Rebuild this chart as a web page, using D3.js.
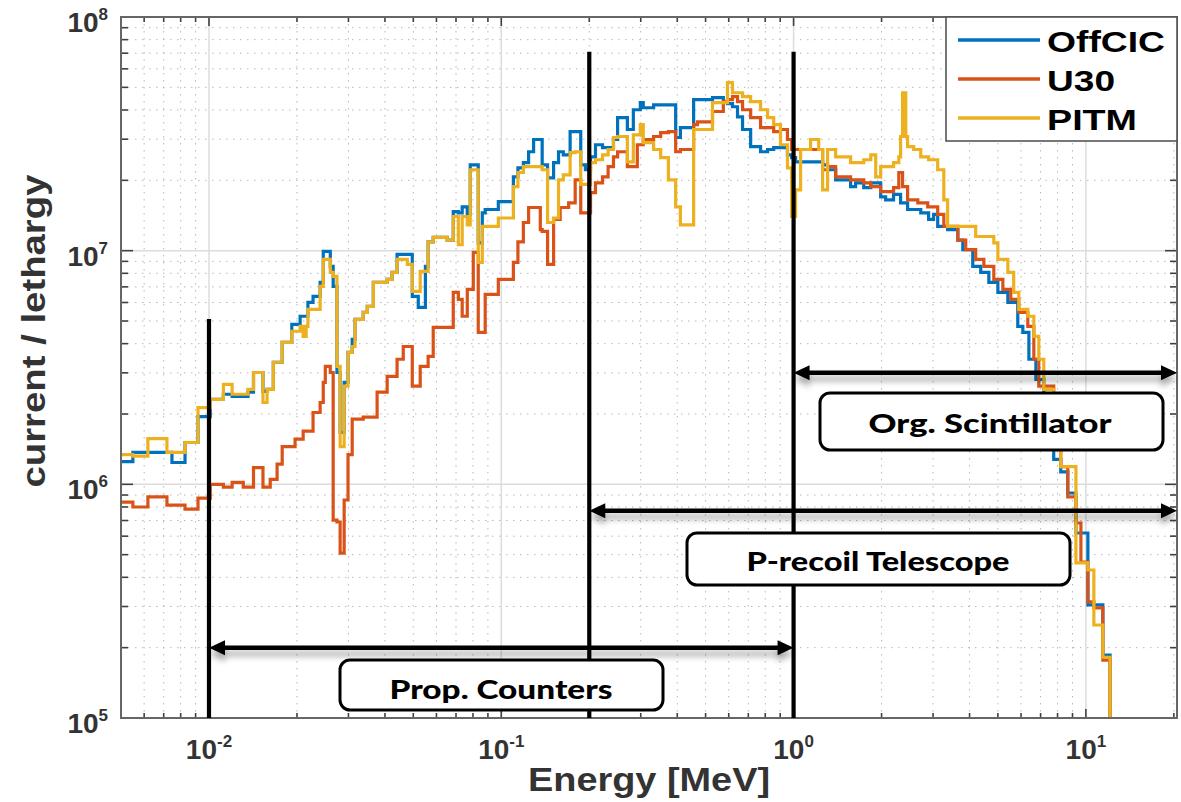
<!DOCTYPE html>
<html>
<head>
<meta charset="utf-8">
<script src="https://cdn.jsdelivr.net/npm/d3@7/dist/d3.min.js"></script>
<style>
html,body{margin:0;padding:0;background:#fff;}
svg{display:block;}
</style>
</head>
<body>
<svg id="chart" width="1181" height="802"></svg>
<script>
// ---------------- DATA ----------------
// Lower bin edges (MeV); each value holds until the next edge (step plot)
const energy = [
  0.0050, 0.00549, 0.00618, 0.00718, 0.00747, 0.00828, 0.00917, 0.0101, 0.0112, 0.0120,
  0.0131, 0.0136, 0.0142, 0.0153, 0.0158, 0.0162, 0.0166, 0.0171, 0.0178, 0.0192,
  0.0197, 0.0205, 0.0210, 0.0215, 0.0218, 0.0227, 0.0240, 0.0246, 0.0250, 0.0260,
  0.0266, 0.0274, 0.0281, 0.0290, 0.0299, 0.0309, 0.0316, 0.0337, 0.0348, 0.0365,
  0.0376, 0.0407, 0.0423, 0.0440, 0.0462, 0.0477, 0.0496, 0.0520, 0.0528, 0.0550,
  0.0562, 0.0585, 0.0653, 0.0685, 0.0713, 0.0735, 0.0765, 0.0783, 0.0802, 0.0834,
  0.0861, 0.0881, 0.0977, 0.110, 0.114, 0.119, 0.124, 0.129, 0.136, 0.138,
  0.144, 0.151, 0.157, 0.159, 0.163, 0.170, 0.172, 0.179, 0.187, 0.194,
  0.202, 0.210, 0.222, 0.232, 0.242, 0.250, 0.270, 0.283, 0.292, 0.299,
  0.306, 0.332, 0.351, 0.373, 0.395, 0.410, 0.455, 0.469, 0.528, 0.575,
  0.594, 0.618, 0.643, 0.669, 0.713, 0.771, 0.815, 0.855, 0.902, 0.953,
  0.985, 1.016, 1.057, 1.143, 1.219, 1.257, 1.307, 1.393, 1.567, 1.630,
  1.738, 1.837, 1.910, 1.986, 2.065, 2.198, 2.291, 2.323, 2.360, 2.420,
  2.455, 2.576, 2.661, 2.723, 2.877, 2.897, 3.013, 3.112, 3.266, 3.365,
  3.647, 3.793, 3.881, 4.102, 4.198, 4.368, 4.477, 4.656, 4.842, 5.000,
  5.200, 5.408, 5.534, 5.662, 5.848, 5.896, 6.085, 6.329, 6.383, 6.637,
  6.745, 6.902, 7.178, 7.762, 8.204, 8.670, 9.247, 9.616, 10.16, 10.65,
  11.43, 12.1, 12.6
];

const offcic = [
  1.25e6, 1.37e6, 1.37e6, 1.37e6, 1.24e6, 1.51e6, 1.95e6, 2.31e6, 2.43e6, 2.38e6,
  2.38e6, 2.48e6, 3.01e6, 2.50e6, 2.55e6, 2.55e6, 3.33e6, 3.33e6, 4.05e6, 4.84e6,
  4.84e6, 5.24e6, 5.24e6, 5.24e6, 6.01e6, 6.37e6, 7.32e6, 9.93e6, 9.93e6, 8.57e6,
  7.03e6, 3.01e6, 1.67e6, 2.73e6, 3.67e6, 4.17e6, 5.08e6, 5.44e6, 5.78e6, 7.32e6,
  7.32e6, 7.54e6, 8.07e6, 9.64e6, 9.64e6, 9.64e6, 6.37e6, 5.72e6, 5.72e6, 8.57e6,
  1.09e7, 1.14e7, 1.11e7, 1.47e7, 1.45e7, 1.54e7, 1.43e7, 2.33e7, 2.33e7, 1.08e7,
  1.45e7, 1.50e7, 1.62e7, 2.07e7, 2.26e7, 2.38e7, 2.65e7, 2.99e7, 2.99e7, 2.33e7,
  2.05e7, 2.38e7, 2.65e7, 2.65e7, 2.57e7, 2.57e7, 3.23e7, 3.23e7, 2.33e7, 2.22e7,
  2.52e7, 2.84e7, 2.76e7, 2.76e7, 2.99e7, 3.71e7, 3.30e7, 4.01e7, 4.01e7, 4.30e7,
  4.09e7, 4.21e7, 4.21e7, 4.21e7, 3.05e7, 3.36e7, 4.43e7, 4.43e7, 4.52e7, 4.34e7,
  4.26e7, 4.13e7, 3.74e7, 3.30e7, 2.79e7, 2.65e7, 2.71e7, 2.76e7, 2.76e7, 2.57e7,
  2.50e7, 2.40e7, 2.40e7, 2.40e7, 2.40e7, 2.33e7, 2.22e7, 2.01e7, 1.88e7, 1.95e7,
  1.86e7, 1.95e7, 1.95e7, 1.70e7, 1.65e7, 1.74e7, 1.74e7, 1.60e7, 1.60e7, 1.60e7,
  1.50e7, 1.50e7, 1.50e7, 1.45e7, 1.45e7, 1.36e7, 1.43e7, 1.27e7, 1.27e7, 1.23e7,
  1.11e7, 1.01e7, 1.01e7, 8.57e6, 8.57e6, 8.07e6, 8.07e6, 7.32e6, 7.32e6, 6.63e6,
  6.63e6, 6.01e6, 6.01e6, 6.01e6, 4.74e6, 4.74e6, 4.47e6, 4.47e6, 3.43e6, 3.43e6,
  2.81e6, 2.81e6, 2.31e6, 1.28e6, 1.13e6, 9.18e5, 6.19e5, 6.19e5, 3.05e5, 3.05e5,
  1.86e5, 5e4, 5e4
];

const u30 = [
  8.40e5, 8.00e5, 8.83e5, 8.15e5, 8.15e5, 7.84e5, 8.73e5, 1.00e6, 9.73e5, 1.02e6,
  9.73e5, 9.73e5, 1.18e6, 9.73e5, 9.73e5, 1.05e6, 1.05e6, 1.22e6, 1.45e6, 1.45e6,
  1.56e6, 1.56e6, 1.69e6, 1.69e6, 1.69e6, 2.03e6, 2.24e6, 2.73e6, 3.20e6, 3.01e6,
  7.03e5, 6.90e5, 5.08e5, 8.57e5, 1.34e6, 1.90e6, 1.90e6, 1.94e6, 1.94e6, 1.94e6,
  2.48e6, 2.90e6, 2.90e6, 3.43e6, 3.89e6, 3.89e6, 2.63e6, 2.63e6, 3.20e6, 3.20e6,
  3.53e6, 4.70e6, 4.70e6, 6.63e6, 6.19e6, 5.24e6, 6.83e6, 6.83e6, 9.84e6, 4.47e6,
  4.47e6, 6.50e6, 7.54e6, 8.91e6, 1.09e7, 1.32e7, 1.53e7, 1.53e7, 1.23e7, 1.21e7,
  8.73e6, 1.36e7, 1.36e7, 1.53e7, 1.53e7, 1.60e7, 1.60e7, 2.01e7, 1.45e7, 1.45e7,
  1.77e7, 1.95e7, 2.07e7, 2.29e7, 2.52e7, 2.65e7, 2.29e7, 2.29e7, 2.84e7, 2.84e7,
  2.99e7, 3.08e7, 3.20e7, 3.23e7, 2.65e7, 2.71e7, 3.46e7, 3.56e7, 3.94e7, 4.34e7,
  4.43e7, 4.56e7, 4.34e7, 4.01e7, 3.71e7, 3.36e7, 3.36e7, 3.23e7, 3.30e7, 2.99e7,
  2.71e7, 2.71e7, 2.71e7, 2.71e7, 2.71e7, 2.22e7, 2.29e7, 2.07e7, 2.01e7, 2.01e7,
  1.95e7, 1.88e7, 1.88e7, 1.79e7, 1.79e7, 1.86e7, 2.16e7, 2.16e7, 1.88e7, 1.88e7,
  1.65e7, 1.65e7, 1.60e7, 1.60e7, 1.54e7, 1.54e7, 1.54e7, 1.43e7, 1.27e7, 1.27e7,
  1.11e7, 1.11e7, 1.01e7, 1.01e7, 9.18e6, 9.18e6, 8.57e6, 8.57e6, 7.54e6, 7.54e6,
  6.83e6, 6.83e6, 6.19e6, 6.19e6, 6.19e6, 5.44e6, 5.44e6, 4.74e6, 4.74e6, 3.43e6,
  3.43e6, 2.63e6, 2.63e6, 1.90e6, 1.19e6, 8.83e5, 6.83e5, 4.65e5, 3.14e5, 2.96e5,
  1.77e5, 5e4, 5e4
];

const pitm = [
  1.34e6, 1.32e6, 1.57e6, 1.37e6, 1.37e6, 1.51e6, 2.13e6, 2.31e6, 2.68e6, 2.43e6,
  2.43e6, 2.55e6, 3.01e6, 2.24e6, 2.55e6, 2.55e6, 3.33e6, 3.33e6, 4.05e6, 4.52e6,
  4.52e6, 4.74e6, 4.30e6, 4.74e6, 5.61e6, 5.61e6, 7.03e6, 9.18e6, 9.18e6, 8.07e6,
  7.76e6, 3.20e6, 1.45e6, 2.63e6, 3.67e6, 3.89e6, 5.08e6, 5.44e6, 5.78e6, 7.32e6,
  7.32e6, 7.54e6, 8.07e6, 9.18e6, 9.18e6, 8.73e6, 6.70e6, 6.70e6, 8.15e6, 8.15e6,
  1.09e7, 1.14e7, 1.11e7, 1.40e7, 1.06e7, 1.40e7, 1.29e7, 2.22e7, 2.22e7, 8.91e6,
  1.27e7, 1.27e7, 1.38e7, 1.88e7, 2.16e7, 2.29e7, 2.29e7, 2.29e7, 2.29e7, 2.22e7,
  1.32e7, 1.38e7, 2.01e7, 2.01e7, 2.11e7, 2.11e7, 2.63e7, 2.65e7, 1.92e7, 1.92e7,
  2.38e7, 2.45e7, 2.57e7, 2.71e7, 3.05e7, 3.08e7, 2.40e7, 3.13e7, 3.13e7, 3.46e7,
  2.90e7, 2.71e7, 2.50e7, 2.01e7, 1.54e7, 1.29e7, 3.30e7, 3.30e7, 4.30e7, 4.30e7,
  5.24e7, 4.74e7, 4.74e7, 4.56e7, 4.34e7, 4.01e7, 3.71e7, 3.46e7, 2.84e7, 2.26e7,
  1.40e7, 1.82e7, 2.71e7, 2.99e7, 2.71e7, 1.82e7, 2.71e7, 2.52e7, 2.38e7, 2.38e7,
  2.45e7, 2.57e7, 2.07e7, 2.29e7, 2.29e7, 2.38e7, 2.52e7, 3.08e7, 4.74e7, 3.08e7,
  2.79e7, 2.71e7, 2.71e7, 2.52e7, 2.52e7, 2.45e7, 2.45e7, 2.22e7, 1.65e7, 1.27e7,
  1.27e7, 1.27e7, 1.27e7, 1.27e7, 1.15e7, 1.15e7, 1.15e7, 1.15e7, 1.08e7, 9.18e6,
  9.18e6, 8.07e6, 8.07e6, 6.63e6, 6.63e6, 5.61e6, 5.61e6, 5.24e6, 5.24e6, 4.30e6,
  4.30e6, 3.43e6, 2.55e6, 2.31e6, 1.19e6, 1.19e6, 4.61e5, 4.61e5, 4.30e5, 2.50e5,
  1.82e5, 5e4, 5e4
];

const seriesNames = ["OffCIC", "U30", "PITM"];
const seriesColors = ["#0072BD", "#D95319", "#EDB120"];

const xTickValues = [0.01, 0.1, 1, 10];
const xTickExponents = ["-2", "-1", "0", "1"];
const yTickValues = [1e5, 1e6, 1e7, 1e8];
const yTickExponents = ["5", "6", "7", "8"];

// detector ranges (MeV) and their annotation
const rangeLabels = ["Prop. Counters", "P-recoil Telescope", "Org. Scintillator"];
const rangeStart = [0.01, 0.2, 1];
const rangeEnd = [1, 20.5, 20.5];
const rangeArrowLevel = [2.0e5, 7.7e5, 3.0e6];
const boundaryEnergy = [0.01, 0.2, 1];
const boundaryTop = [5.1e6, 7.1e7, 7.1e7];

// ---------------- LAYOUT ----------------
const M = {left: 121, top: 17, right: 1177, bottom: 718};
const labelBoxes = [
  {x: 340, y: 660, w: 323, h: 50, tx: 501, ty: 699, len: 223},
  {x: 687, y: 533, w: 383, h: 52, tx: 878, ty: 571, len: 263},
  {x: 820, y: 393, w: 343, h: 57, tx: 990, ty: 433, len: 243}
];

const svg = d3.select("#chart");
const x = d3.scaleLog().domain([0.005, 20.5]).range([M.left, M.right]);
const y = d3.scaleLog().domain([1e5, 1e8]).range([M.bottom, M.top]);

const defs = svg.append("defs");
defs.append("clipPath").attr("id", "clip").append("rect")
  .attr("x", M.left).attr("y", M.top)
  .attr("width", M.right - M.left).attr("height", M.bottom - M.top);
const f = defs.append("filter").attr("id", "shadow")
  .attr("x", "-5%").attr("y", "-200%").attr("width", "110%").attr("height", "500%");
f.append("feDropShadow").attr("dx", 0).attr("dy", 6).attr("stdDeviation", 3)
  .attr("flood-color", "#000").attr("flood-opacity", 0.35);

const isMajor = t => { const l = Math.log10(t); return Math.abs(l - Math.round(l)) < 1e-6; };
const xt = x.ticks();
const yt = y.ticks();

// grid
const grid = svg.append("g");
xt.filter(t => !isMajor(t)).forEach(t => {
  grid.append("line").attr("x1", x(t)).attr("x2", x(t)).attr("y1", M.top).attr("y2", M.bottom)
    .attr("stroke", "#b8b8b8").attr("stroke-width", 1).attr("stroke-dasharray", "1.5,5.5");
});
yt.filter(t => !isMajor(t)).forEach(t => {
  grid.append("line").attr("y1", y(t)).attr("y2", y(t)).attr("x1", M.left).attr("x2", M.right)
    .attr("stroke", "#b8b8b8").attr("stroke-width", 1).attr("stroke-dasharray", "1.5,5.5");
});
xt.filter(isMajor).forEach(t => {
  grid.append("line").attr("x1", x(t)).attr("x2", x(t)).attr("y1", M.top).attr("y2", M.bottom)
    .attr("stroke", "#dcdcdc").attr("stroke-width", 1.5);
});
yt.filter(isMajor).forEach(t => {
  grid.append("line").attr("y1", y(t)).attr("y2", y(t)).attr("x1", M.left).attr("x2", M.right)
    .attr("stroke", "#dcdcdc").attr("stroke-width", 1.5);
});

// curves
const seriesValues = [offcic, u30, pitm];
const line = d3.line().x(d => x(d[0])).y(d => y(d[1])).curve(d3.curveStepAfter);
const curves = svg.append("g").attr("clip-path", "url(#clip)");
seriesValues.forEach((vals, i) => {
  curves.append("path")
    .datum(energy.map((e, k) => [e, vals[k]]))
    .attr("d", line).attr("fill", "none")
    .attr("stroke", seriesColors[i]).attr("stroke-width", 3.2)
    .attr("stroke-linejoin", "miter");
});

// axes frame and ticks
const ax = svg.append("g");
xt.forEach(t => {
  const L = isMajor(t) ? 9 : 5;
  ax.append("line").attr("x1", x(t)).attr("x2", x(t)).attr("y1", M.bottom).attr("y2", M.bottom - L)
    .attr("stroke", "#404040").attr("stroke-width", 1.6);
  ax.append("line").attr("x1", x(t)).attr("x2", x(t)).attr("y1", M.top).attr("y2", M.top + L)
    .attr("stroke", "#404040").attr("stroke-width", 1.6);
});
yt.forEach(t => {
  const L = isMajor(t) ? 12 : 7;
  ax.append("line").attr("y1", y(t)).attr("y2", y(t)).attr("x1", M.left).attr("x2", M.left + L)
    .attr("stroke", "#404040").attr("stroke-width", 1.6);
  ax.append("line").attr("y1", y(t)).attr("y2", y(t)).attr("x1", M.right).attr("x2", M.right - L)
    .attr("stroke", "#404040").attr("stroke-width", 1.6);
});
ax.append("rect").attr("x", M.left).attr("y", M.top)
  .attr("width", M.right - M.left).attr("height", M.bottom - M.top)
  .attr("fill", "none").attr("stroke", "#666").attr("stroke-width", 2);

// tick labels
const fontMain = "'Liberation Sans', Arial, Helvetica, sans-serif";
xTickValues.forEach((v, i) => {
  const t = svg.append("text").attr("x", x(v)).attr("y", 759)
    .attr("text-anchor", "middle").attr("font-family", fontMain)
    .attr("font-weight", "bold").attr("font-size", 28).attr("fill", "#333");
  t.append("tspan").text("10");
  t.append("tspan").attr("dy", -12).attr("font-size", 17).text(xTickExponents[i]);
});
yTickValues.forEach((v, i) => {
  const t = svg.append("text").attr("x", 108).attr("y", y(v) + 15)
    .attr("text-anchor", "end").attr("font-family", fontMain)
    .attr("font-weight", "bold").attr("font-size", 28).attr("fill", "#333");
  t.append("tspan").text("10");
  t.append("tspan").attr("dy", -12).attr("font-size", 17).text(yTickExponents[i]);
});

// axis titles
svg.append("text").attr("x", 649).attr("y", 791).attr("text-anchor", "middle")
  .attr("font-family", fontMain).attr("font-weight", "bold").attr("font-size", 34)
  .attr("fill", "#333").attr("textLength", 242).attr("lengthAdjust", "spacingAndGlyphs")
  .text("Energy [MeV]");
svg.append("text").attr("transform", "translate(45,331) rotate(-90)").attr("text-anchor", "middle")
  .attr("font-family", fontMain).attr("font-weight", "bold").attr("font-size", 34)
  .attr("fill", "#333").attr("textLength", 313).attr("lengthAdjust", "spacingAndGlyphs")
  .text("current / lethargy");

// boundary lines
const ann = svg.append("g");
boundaryEnergy.forEach((e, i) => {
  ann.append("line").attr("x1", x(e)).attr("x2", x(e))
    .attr("y1", y(boundaryTop[i])).attr("y2", M.bottom)
    .attr("stroke", "#000").attr("stroke-width", 4.2);
});

// arrows
rangeStart.forEach((s, i) => {
  const x1 = x(s), x2 = x(rangeEnd[i]), yy = y(rangeArrowLevel[i]);
  const g = ann.append("g").attr("filter", "url(#shadow)");
  g.append("line").attr("x1", x1 + 10).attr("x2", x2 - 10).attr("y1", yy).attr("y2", yy)
    .attr("stroke", "#000").attr("stroke-width", 4.5);
  g.append("path").attr("d", `M${x1},${yy}L${x1 + 16},${yy - 7.5}L${x1 + 16},${yy + 7.5}Z`).attr("fill", "#000");
  g.append("path").attr("d", `M${x2},${yy}L${x2 - 16},${yy - 7.5}L${x2 - 16},${yy + 7.5}Z`).attr("fill", "#000");
});

// label boxes
labelBoxes.forEach((b, i) => {
  ann.append("rect").attr("x", b.x).attr("y", b.y).attr("width", b.w).attr("height", b.h)
    .attr("rx", 10).attr("ry", 10).attr("fill", "#fff").attr("stroke", "#000").attr("stroke-width", 3);
  ann.append("text").attr("x", b.tx).attr("y", b.ty).attr("text-anchor", "middle")
    .attr("font-family", "Lato, 'Open Sans', sans-serif").attr("font-weight", 900)
    .attr("font-size", 27).attr("fill", "#000")
    .attr("textLength", b.len).attr("lengthAdjust", "spacingAndGlyphs")
    .text(rangeLabels[i]);
});

// legend
const lg = svg.append("g");
lg.append("rect").attr("x", 946).attr("y", M.top).attr("width", M.right - 946).attr("height", 124)
  .attr("fill", "#fff").attr("stroke", "#555").attr("stroke-width", 1.6);
const legY = [40, 79, 118];
const legLen = [118, 68, 90];
seriesNames.forEach((n, i) => {
  lg.append("line").attr("x1", 958).attr("x2", 1040).attr("y1", legY[i]).attr("y2", legY[i])
    .attr("stroke", seriesColors[i]).attr("stroke-width", 3.5);
  lg.append("text").attr("x", 1047).attr("y", legY[i] + 12)
    .attr("font-family", fontMain).attr("font-weight", "bold").attr("font-size", 29)
    .attr("fill", "#000").attr("textLength", legLen[i]).attr("lengthAdjust", "spacingAndGlyphs")
    .text(n);
});
</script>
</body>
</html>
